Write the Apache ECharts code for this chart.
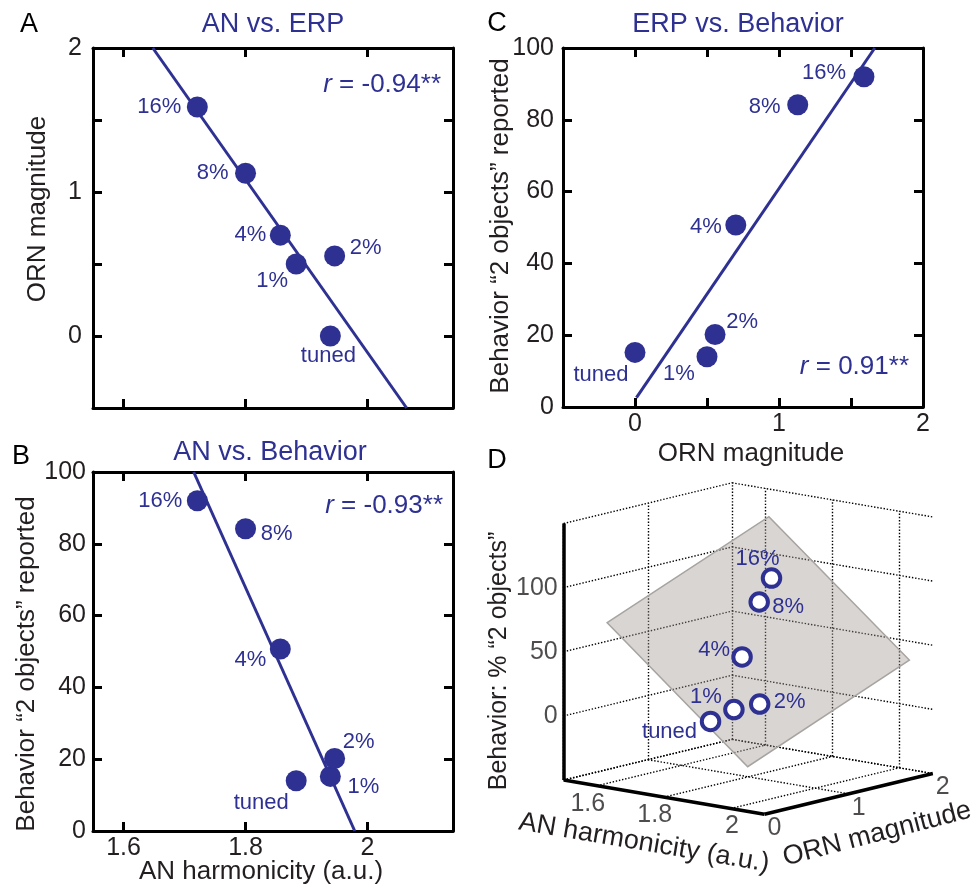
<!DOCTYPE html>
<html>
<head>
<meta charset="utf-8">
<script src="https://cdn.jsdelivr.net/npm/echarts@6/dist/echarts.min.js"></script>
<style>
  html, body { margin: 0; padding: 0; background: #fff; }
  #chart { width: 976px; height: 887px; }
</style>
</head>
<body>
<div id="chart"></div>
<script>
// conditions, same order in every panel
const conditions = ['tuned', '1%', '2%', '4%', '8%', '16%'];
const anHarmonicity = [1.939, 1.883, 1.946, 1.857, 1.800, 1.721];
const ornMagnitude = [0.00, 0.50, 0.556, 0.70, 1.13, 1.59];
const behavior = [15.2, 14.0, 20.2, 50.7, 84.2, 92.0];
// panel B prints "tuned" and "1%" the other way round
const labelsB = ['1%', 'tuned', '2%', '4%', '8%', '16%'];

// regression lines (end points)
const fitA = [[1.648, 2.0], [2.064, -0.5]];
const fitB = [[1.715, 100], [1.979, 0]];
const fitC = [[0.01, 2.6], [1.665, 100]];
const rValues = ['-0.94**', '-0.93**', '0.91**'];

// axes
const anTicks = [1.6, 1.8, 2.0];
const anRange = [1.55, 2.14];
const ornTicks = [-0.5, 0, 0.5, 1, 1.5, 2];
const ornRange = [-0.5, 2];
const behTicks = [0, 20, 40, 60, 80, 100];
const behRange = [0, 100];

// 3D panel D
const anRange3d = [1.5, 2.1];
const ornRange3d = [0, 2];
const behRange3d = [-50, 150];
const anTicks3d = [1.6, 1.8, 2.0];
const ornTicks3d = [0, 1, 2];
const behTicks3d = [0, 50, 100];
const behGrid3d = [-50, 0, 50, 100, 150];
// fitted plane: corners over AN x ORN, z values [AN low: ORN low, high], [AN high: ...]
const planeAN = [1.63, 2.05];
const planeORN = [0, 1.92];
const planeZ = [[78.4, 130.6], [-15.2, 37.5]];

const BLUE = '#2e3192';
const INK = '#231f20';
const FONT = "'Liberation Sans', Arial, sans-serif";

// label offsets (px) from each point centre
const offA = [[-2, 20], [-24, 17], [31, -8], [-30, 0], [-33, 0], [-38, 0]];
const offB = [[33, 11], [-35, 22], [24, -17], [-30, 11], [31, 5], [-37, 0]];
const offC = [[-34, 23], [-28, 17], [27, -13], [-30, 2], [-33, 2], [-40, -4]];
const offD = [[-41, 11], [-28, -13], [30, -2], [-28, -7], [29, 5], [-14, -19]];

// orthographic view of the unit cube (matlab-like view)
const AZ = 40 * Math.PI / 180, EL = 11.7 * Math.PI / 180;
function project(an, orn, beh) {
  const X = (an - anRange3d[0]) / (anRange3d[1] - anRange3d[0]) - 0.5;
  const Y = (orn - ornRange3d[0]) / (ornRange3d[1] - ornRange3d[0]) - 0.5;
  const Z = (beh - behRange3d[0]) / (behRange3d[1] - behRange3d[0]) - 0.5;
  return [
    X * Math.cos(AZ) + Y * Math.sin(AZ),
    Z * Math.cos(EL) - X * Math.sin(AZ) * Math.sin(EL) + Y * Math.cos(AZ) * Math.sin(EL)
  ];
}

const intOnly = v => (Math.abs(v - Math.round(v)) < 1e-6 ? String(Math.round(v)) : '');

// box axes: main axis with labels + mirrored axis, inward ticks on both
function axisPair(grid, dim, range, tickValues, labels, margin, formatter) {
  const mk = (position, showLabels) => ({
    type: 'value', gridIndex: grid, position: position,
    min: range[0], max: range[1],
    splitLine: { show: false },
    axisLine: { show: true, onZero: false, lineStyle: { color: '#000', width: 3 } },
    axisTick: { show: true, inside: true, length: 9, customValues: tickValues,
      lineStyle: { color: '#000', width: 3 } },
    axisLabel: {
      show: showLabels, color: INK, fontSize: 25, fontFamily: FONT, margin: margin,
      customValues: tickValues, formatter: formatter || (v => String(v))
    }
  });
  return [mk(dim === 'x' ? 'bottom' : 'left', labels), mk(dim === 'x' ? 'top' : 'right', false)];
}

const xAxes = [].concat(
  axisPair(0, 'x', anRange, anTicks, false, 5),
  axisPair(1, 'x', anRange, anTicks, true, 5),
  axisPair(2, 'x', ornRange, ornTicks, true, 5, intOnly),
  [{ type: 'value', gridIndex: 3, min: -0.75, max: 0.75, show: false }]
);
const yAxes = [].concat(
  axisPair(0, 'y', ornRange, ornTicks, true, 11, intOnly),
  axisPair(1, 'y', behRange, behTicks, true, 7),
  axisPair(2, 'y', behRange, behTicks, true, 9),
  [{ type: 'value', gridIndex: 3, min: -0.75, max: 0.75, show: false }]
);

function dots(axisIdx, xs, ys, names, offs) {
  return {
    type: 'scatter', xAxisIndex: axisIdx, yAxisIndex: axisIdx, z: 5,
    symbol: 'circle', symbolSize: 21, itemStyle: { color: BLUE, opacity: 1 },
    label: { show: true, position: 'inside', formatter: '{b}', color: BLUE, fontSize: 22, fontFamily: FONT },
    data: names.map((n, i) => ({ name: n, value: [xs[i], ys[i]], label: { offset: offs[i] } }))
  };
}
function fitLine(axisIdx, pts) {
  return {
    type: 'line', xAxisIndex: axisIdx, yAxisIndex: axisIdx, z: 3, symbol: 'none',
    lineStyle: { color: BLUE, width: 3 }, data: pts
  };
}

// ---- panel D geometry
const [a0, a1] = anRange3d, [o0, o1] = ornRange3d, [z0, z1] = behRange3d;
const gridSegs = [];
[a0].concat(anTicks3d).forEach(a => gridSegs.push([[a, o0, z0], [a, o1, z0]]));
ornTicks3d.forEach(o => gridSegs.push([[a0, o, z0], [a1, o, z0]]));
ornTicks3d.forEach(o => gridSegs.push([[a0, o, z0], [a0, o, z1]]));
behGrid3d.forEach(z => gridSegs.push([[a0, o0, z], [a0, o1, z]]));
anTicks3d.forEach(a => gridSegs.push([[a, o1, z0], [a, o1, z1]]));
behGrid3d.forEach(z => gridSegs.push([[a0, o1, z], [a1, o1, z]]));
const axisSegs = [
  [[a0, o0, z0], [a0, o0, z1]],
  [[a0, o0, z0], [a1, o0, z0]],
  [[a1, o0, z0], [a1, o1, z0]]
];
const planeCorners = [
  project(planeAN[0], planeORN[0], planeZ[0][0]),
  project(planeAN[1], planeORN[0], planeZ[1][0]),
  project(planeAN[1], planeORN[1], planeZ[1][1]),
  project(planeAN[0], planeORN[1], planeZ[0][1])
];
const toLines = segs => segs.map(s => ({ coords: s.map(p => project(p[0], p[1], p[2])) }));

function tickLabels(items, align, offset) {
  return {
    type: 'scatter', xAxisIndex: 6, yAxisIndex: 6, z: 6, silent: true,
    symbolSize: 1, itemStyle: { color: 'rgba(0,0,0,0)' },
    label: { show: true, position: 'inside', formatter: '{b}', align: align, offset: offset,
      color: INK, fontSize: 25, fontFamily: FONT },
    data: items
  };
}

const series = [
  fitLine(0, fitA), dots(0, anHarmonicity, ornMagnitude, conditions, offA),
  fitLine(2, fitB), dots(2, anHarmonicity, behavior, labelsB, offB),
  fitLine(4, fitC), dots(4, ornMagnitude, behavior, conditions, offC),
  {
    type: 'lines', coordinateSystem: 'cartesian2d', xAxisIndex: 6, yAxisIndex: 6, z: 1, silent: true,
    lineStyle: { color: '#000', width: 1.4, type: [1.4, 1.8], opacity: 1 },
    data: toLines(gridSegs)
  },
  {
    type: 'custom', xAxisIndex: 6, yAxisIndex: 6, z: 2, silent: true, clip: false,
    data: [[0, 0]],
    renderItem: (params, api) => ({
      type: 'polygon',
      shape: { points: planeCorners.map(p => api.coord(p)) },
      style: { fill: 'rgba(160,150,145,0.4)', stroke: '#a7a3a1', lineWidth: 1.5 }
    })
  },
  {
    type: 'lines', coordinateSystem: 'cartesian2d', xAxisIndex: 6, yAxisIndex: 6, z: 3, silent: true,
    lineStyle: { color: '#000', width: 3.5, opacity: 1 },
    data: toLines(axisSegs)
  },
  {
    type: 'scatter', xAxisIndex: 6, yAxisIndex: 6, z: 5,
    symbol: 'circle', symbolSize: 17.5,
    itemStyle: { color: '#fff', borderColor: BLUE, borderWidth: 4, opacity: 1 },
    label: { show: true, position: 'inside', formatter: '{b}', color: BLUE, fontSize: 22, fontFamily: FONT },
    data: conditions.map((n, i) => ({
      name: n, value: project(anHarmonicity[i], ornMagnitude[i], behavior[i]), label: { offset: offD[i] }
    }))
  },
  tickLabels(behTicks3d.map(z => ({ name: String(z), value: project(a0, o0, z) })), 'right', [-6, 0]),
  tickLabels(anTicks3d.map(a => ({ name: String(a), value: project(a, o0, z0) })), 'right', [8, 18]),
  tickLabels(ornTicks3d.map(o => ({ name: String(o), value: project(a1, o, z0) })), 'center', [10, 14])
];

function txt(text, x, y, size, color, rot) {
  return {
    type: 'text', x: x, y: y, rotation: rot || 0, silent: true,
    style: { text: text, fontSize: size, fontFamily: FONT, fill: color,
      align: 'center', verticalAlign: 'middle' }
  };
}
function rText(value, x, y) {
  return {
    type: 'text', x: x, y: y, silent: true,
    style: {
      text: '{i|r} = ' + value, fontSize: 26, fontFamily: FONT, fill: BLUE,
      align: 'right', verticalAlign: 'middle',
      rich: { i: { fontStyle: 'italic', fontSize: 26, fontFamily: FONT, fill: BLUE } }
    }
  };
}

const graphics = [
  txt('A', 29, 25, 27, '#000'),
  txt('B', 21, 457, 27, '#000'),
  txt('C', 497, 24, 27, '#000'),
  txt('D', 497, 461, 27, '#000'),
  txt('AN vs. ERP', 273, 25, 27, BLUE),
  txt('AN vs. Behavior', 270, 453, 27, BLUE),
  txt('ERP vs. Behavior', 738, 25, 27, BLUE),
  rText(rValues[0], 441, 85),
  rText(rValues[1], 443, 506),
  rText(rValues[2], 909, 367),
  txt('ORN magnitude', 38, 209, 26, INK, Math.PI / 2),
  txt('Behavior \u201c2 objects\u201d reported', 27, 664, 26, INK, Math.PI / 2),
  txt('Behavior \u201c2 objects\u201d reported', 501, 226, 26, INK, Math.PI / 2),
  txt('AN harmonicity (a.u.)', 261, 872, 26, INK),
  txt('ORN magnitude', 751, 454, 26, INK),
  txt('Behavior: % \u201c2 objects\u201d', 499, 661, 25, INK, Math.PI / 2),
  txt('AN harmonicity (a.u.)', 644, 843, 27, INK, -9.6 * Math.PI / 180),
  txt('ORN magnitude', 877, 834, 27, INK, 14.5 * Math.PI / 180)
];

const chart = echarts.init(document.getElementById('chart'), null, { renderer: 'canvas' });
chart.setOption({
  animation: false,
  backgroundColor: '#fff',
  textStyle: { fontFamily: FONT },
  grid: [
    { left: 93, top: 48, width: 360, height: 360 },
    { left: 93, top: 472, width: 360, height: 359 },
    { left: 563, top: 48, width: 360, height: 359 },
    { left: 551.75, top: 452, width: 393, height: 393 }
  ],
  xAxis: xAxes,
  yAxis: yAxes,
  series: series,
  graphic: graphics
});
</script>
</body>
</html>
